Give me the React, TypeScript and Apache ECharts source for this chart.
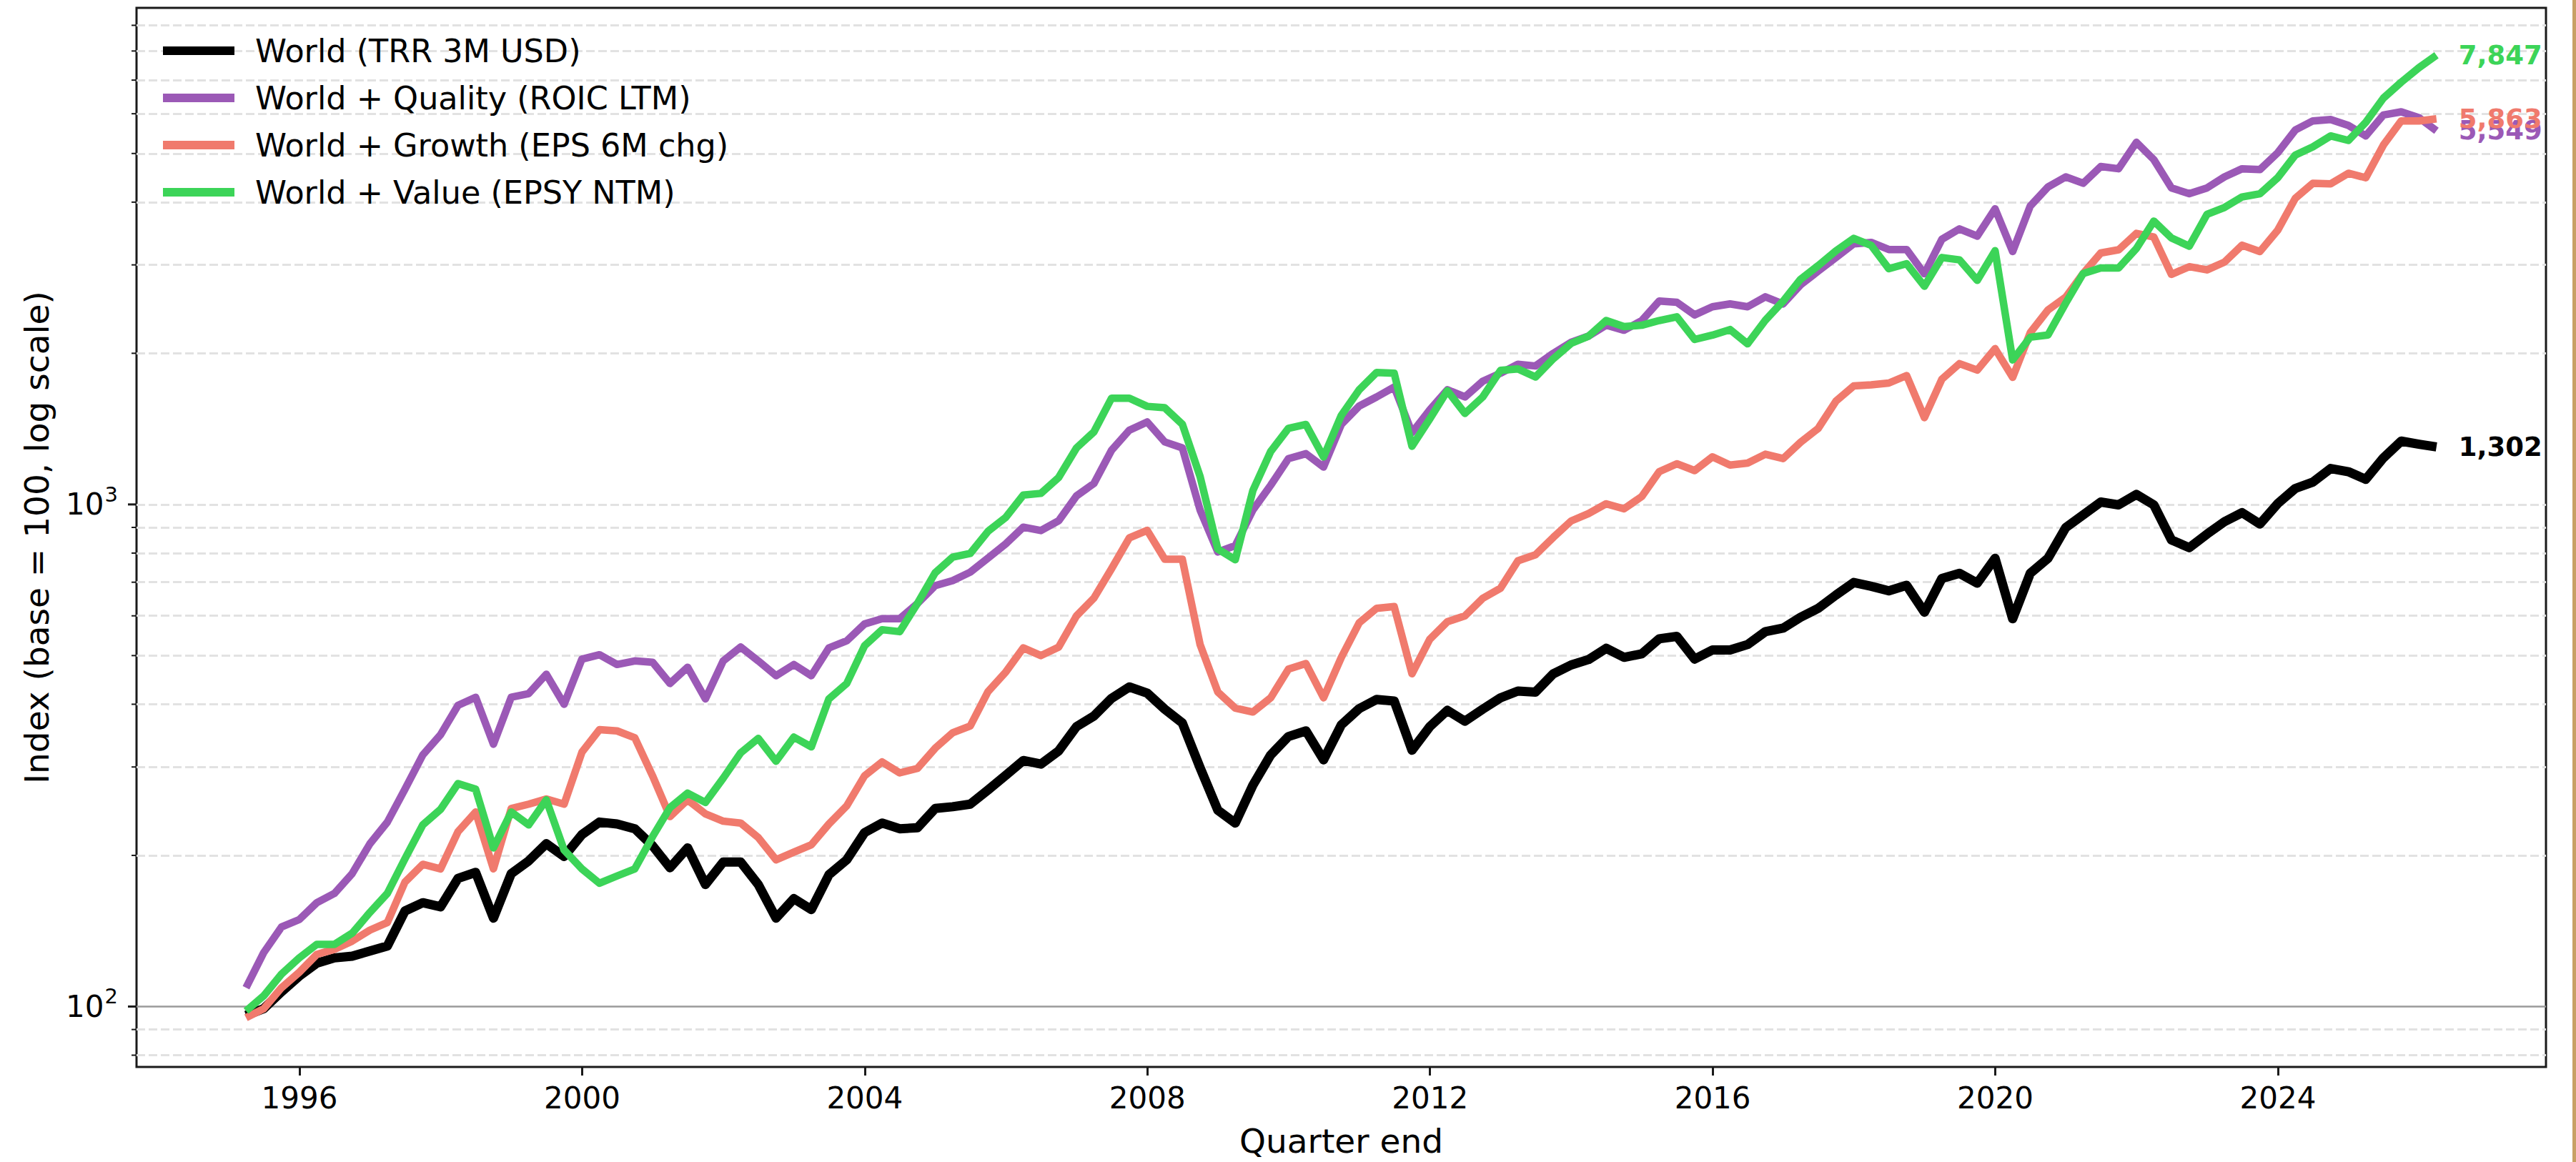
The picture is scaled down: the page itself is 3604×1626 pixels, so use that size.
import React, { useEffect, useRef } from 'react';
import * as echarts from 'echarts';

const FONT = 'DejaVu Sans';
const START_YEAR = 1995; // first quarter end: 1995-03-31

const seriesNames = [
  'World (TRR 3M USD)',
  'World + Quality (ROIC LTM)',
  'World + Growth (EPS 6M chg)',
  'World + Value (EPSY NTM)',
];
const seriesColors = ['#000000', '#9b59b6', '#f07a6d', '#3cd458'];

const world = [
  96, 99, 107, 115, 122, 125, 126, 129, 132, 155,
  161, 158, 180, 185, 150, 184, 195, 211, 199, 220,
  233, 231, 226, 209, 189, 207, 175, 194, 194, 175,
  150, 164, 156, 183, 196, 222, 232, 226, 227, 248,
  250, 253, 270, 289, 309, 304, 323, 361, 379, 411,
  433, 421, 391, 367, 299, 246, 232, 276, 317, 345,
  354, 310, 364, 392, 409, 406, 324, 361, 389, 370,
  391, 412, 425, 423, 460, 479, 491, 517, 496, 504,
  540, 546, 492, 513, 513, 526, 558, 567, 596, 621,
  660, 699, 687, 673, 690, 610, 712, 729, 697, 781,
  592, 729, 781, 899, 953, 1011, 998, 1047, 998, 850,
  820, 873, 924, 963, 914, 1004, 1076, 1108, 1179, 1162,
  1122, 1238, 1337, 1318, 1302,
];

const quality = [
  109, 128, 144, 149, 161, 168, 184, 211, 233, 271,
  317, 348, 398, 413, 333, 413, 420, 459, 400, 492,
  502, 480, 488, 485, 440, 474, 410, 488, 520, 488,
  456, 480, 456, 518, 535, 578, 592, 592, 635, 689,
  705, 733, 782, 835, 901, 887, 928, 1040, 1101, 1282,
  1406, 1460, 1332, 1296, 975, 804, 828, 975, 1092, 1234,
  1262, 1187, 1444, 1570, 1637, 1713, 1390, 1543, 1692, 1637,
  1759, 1825, 1902, 1887, 2000, 2103, 2164, 2275, 2223, 2324,
  2541, 2527, 2385, 2476, 2508, 2476, 2591, 2508, 2737, 2915,
  3104, 3304, 3326, 3219, 3219, 2880, 3373, 3538, 3422, 3880,
  3189, 3929, 4289, 4492, 4362, 4711, 4662, 5263, 4861, 4270,
  4158, 4270, 4492, 4662, 4644, 5017, 5568, 5806, 5842, 5686,
  5420, 5966, 6053, 5892, 5549,
];

const growth = [
  95, 99, 109, 117, 127, 130, 135, 142, 147, 177,
  192, 188, 223, 244, 188, 248, 253, 259, 253, 321,
  356, 354, 343, 288, 239, 258, 242, 234, 232, 217,
  196, 203, 210, 231, 251, 288, 307, 292, 298, 327,
  351, 362, 424, 464, 518, 500, 520, 600, 651, 745,
  858, 888, 778, 778, 526, 423, 393, 386, 412, 470,
  482, 412, 496, 581, 621, 626, 460, 539, 584, 600,
  650, 681, 772, 794, 860, 927, 959, 1003, 980, 1037,
  1162, 1205, 1168, 1244, 1198, 1209, 1259, 1234, 1330, 1417,
  1606, 1722, 1731, 1745, 1806, 1489, 1776, 1907, 1852, 2043,
  1791, 2198, 2440, 2587, 2884, 3168, 3215, 3466, 3408, 2872,
  2975, 2932, 3038, 3283, 3189, 3517, 4072, 4362, 4350, 4567,
  4473, 5198, 5806, 5806, 5863,
];

const valueIdx = [
  98, 105, 116, 125, 133, 133, 140, 154, 168, 197,
  230, 247, 278, 271, 207, 244, 230, 258, 205, 188,
  176, 182, 188, 218, 249, 266, 255, 285, 320, 342,
  308, 344, 329, 410, 440, 523, 563, 558, 635, 731,
  785, 799, 884, 943, 1044, 1052, 1132, 1296, 1395, 1628,
  1628, 1568, 1558, 1445, 1137, 815, 776, 1066, 1275, 1418,
  1443, 1243, 1505, 1692, 1831, 1825, 1306, 1480, 1684, 1518,
  1637, 1849, 1862, 1794, 1951, 2093, 2164, 2324, 2260, 2275,
  2324, 2364, 2131, 2174, 2230, 2089, 2327, 2540, 2808, 2989,
  3199, 3388, 3280, 2948, 3016, 2720, 3103, 3070, 2795, 3201,
  1940, 2153, 2175, 2518, 2884, 2957, 2957, 3234, 3667, 3394,
  3268, 3784, 3904, 4097, 4158, 4473, 4965, 5154, 5420, 5308,
  5770, 6447, 6934, 7413, 7847,
];

const xTickYears = [1996, 2000, 2004, 2008, 2012, 2016, 2020, 2024];
const yMajorTicks = [100, 1000];
const yMinorTicks = [80, 90, 200, 300, 400, 500, 600, 700, 800, 900, 2000, 3000, 4000, 5000, 6000, 7000, 8000, 9000];
const yMin = 75.8;
const yMax = 9750;

// quarter-end dates as decimal years
function quarterEnds(n: number): number[] {
  const ends = [[2, 31], [5, 30], [8, 30], [11, 31]];
  const out: number[] = [];
  for (let i = 0; i < n; i++) {
    const y = START_YEAR + Math.floor(i / 4);
    const [m, d] = ends[i % 4];
    const t0 = Date.UTC(y, 0, 1);
    const t1 = Date.UTC(y + 1, 0, 1);
    out.push(y + (Date.UTC(y, m, d) - t0) / (t1 - t0));
  }
  return out;
}

const fmt = (v: number) => Math.round(v).toLocaleString('en-US');

export default function App() {
  const ref = useRef<HTMLDivElement>(null);

  useEffect(() => {
    if (!ref.current) return;
    const chart = echarts.init(ref.current, null, { renderer: 'svg' });
    const allSeries = [world, quality, growth, valueIdx];
    const xs = quarterEnds(world.length);
    const span = xs[xs.length - 1] - xs[0];
    const xMin = xs[0] - 0.05 * span;
    const xMax = xs[xs.length - 1] + 0.05 * span;
    const widths = [13, 10.5, 10.5, 10.5];

    const lineSeries = allSeries.map((vals, k) => ({
      name: seriesNames[k],
      type: 'line',
      data: xs.map((x, i) => [x, vals[i]]),
      symbol: 'none',
      showSymbol: false,
      color: seriesColors[k],
      itemStyle: { color: seriesColors[k] },
      lineStyle: { color: seriesColors[k], width: widths[k], join: 'round', cap: 'butt' },
      z: 3 + k,
      silent: true,
      emphasis: { disabled: true },
      endLabel: {
        show: true,
        distance: 31,
        formatter: (p: any) => fmt(p.value[1]),
        color: seriesColors[k],
        fontSize: 37,
        fontWeight: 'bold',
        fontFamily: FONT,
      },
    }));

    const gridSeries = {
      name: '__grid',
      type: 'line',
      data: [[xs[0], 100]],
      symbol: 'none',
      lineStyle: { opacity: 0 },
      silent: true,
      z: 1,
      markLine: {
        silent: true,
        z: 1,
        symbol: ['none', 'none'],
        label: { show: false },
        emphasis: { disabled: true },
        data: [
          ...[...yMinorTicks, 1000].map((v) => ({
            yAxis: v,
            lineStyle: { type: [12, 5], color: '#e2e2e2', width: 3 },
          })),
          { yAxis: 100, lineStyle: { type: 'solid', color: '#9a9a9a', width: 2.5 } },
        ],
      },
    };

    const option: any = {
      animation: false,
      backgroundColor: '#ffffff',
      grid: {
        left: 191,
        top: 11,
        right: 42,
        bottom: 133,
        show: true,
        borderColor: '#1a1a1a',
        borderWidth: 3,
        backgroundColor: 'transparent',
        containLabel: false,
        outerBoundsMode: 'none',
      },
      legend: {
        orient: 'vertical',
        left: 228,
        top: 46,
        padding: 0,
        itemGap: 16,
        itemWidth: 100,
        itemHeight: 12,
        icon: 'rect',
        selectedMode: false,
        textStyle: {
          fontSize: 44.5,
          fontFamily: FONT,
          color: '#000',
          lineHeight: 50,
          padding: [0, 0, 0, 24],
        },
        data: seriesNames.map((n, i) => ({ name: n, itemStyle: { color: seriesColors[i] } })),
      },
      xAxis: {
        type: 'value',
        min: xMin,
        max: xMax,
        name: 'Quarter end',
        nameLocation: 'middle',
        nameGap: 80,
        nameMoveOverlap: false,
        nameTextStyle: { fontSize: 47, fontFamily: FONT, color: '#000' },
        axisLine: { show: false },
        splitLine: { show: false },
        axisTick: {
          show: true,
          customValues: xTickYears,
          length: 12,
          lineStyle: { width: 3, color: '#1a1a1a' },
        },
        axisLabel: {
          customValues: xTickYears,
          formatter: (v: number) => String(Math.round(v)),
          fontSize: 42,
          fontFamily: FONT,
          color: '#000',
          margin: 22,
        },
      },
      yAxis: {
        type: 'log',
        logBase: 10,
        min: yMin,
        max: yMax,
        name: 'Index (base = 100, log scale)',
        nameLocation: 'middle',
        nameGap: 116,
        nameRotate: 90,
        nameMoveOverlap: false,
        nameTextStyle: { fontSize: 47, fontFamily: FONT, color: '#000' },
        axisLine: { show: false },
        axisTick: { show: false },
        splitLine: { show: false },
        minorTick: { show: false },
        minorSplitLine: { show: false },
        axisLabel: {
          margin: 26,
          formatter: (v: number) => {
            const e = Math.log10(v);
            const r = Math.round(e);
            if (Math.abs(e - r) > 0.001) return '';
            return '{b|10}{s|' + r + '}';
          },
          rich: {
            b: { fontSize: 42, fontFamily: FONT, color: '#000' },
            s: { fontSize: 29, fontFamily: FONT, color: '#000', padding: [0, 0, 28, 1] },
          },
        },
      },
      series: [gridSeries, ...lineSeries],
    };

    chart.setOption(option);

    // y-axis tick marks (major + minor) placed through the axis scale
    const tickEls: any[] = [];
    const addTick = (v: number, len: number, w: number) => {
      const p = chart.convertToPixel({ gridIndex: 0 }, [xMin, v]) as number[];
      if (!p) return;
      tickEls.push({
        type: 'line',
        silent: true,
        z: 50,
        shape: { x1: p[0] - len, y1: p[1], x2: p[0], y2: p[1] },
        style: { stroke: '#1a1a1a', lineWidth: w },
      });
    };
    yMajorTicks.forEach((v) => addTick(v, 12, 3));
    yMinorTicks.forEach((v) => addTick(v, 7, 2));

    const rightEdge = chart.convertToPixel({ gridIndex: 0 }, [xMax, yMax]) as number[];
    chart.setOption({
      graphic: {
        elements: [
          ...tickEls,
          {
            type: 'rect',
            silent: true,
            z: 100,
            shape: { x: rightEdge[0] + 2, y: 0, width: 3599 - rightEdge[0] - 2, height: 1626 },
            style: { fill: '#ffffff' },
          },
          {
            type: 'rect',
            silent: true,
            z: 101,
            shape: { x: 3599, y: 0, width: 5, height: 1626 },
            style: { fill: '#c8a064' },
          },
        ],
      },
    });

    return () => chart.dispose();
  }, []);

  return (
    <div
      ref={ref}
      style={{ position: 'absolute', left: 0, top: 0, width: 3604, height: 1626, background: '#fff' }}
    />
  );
}
